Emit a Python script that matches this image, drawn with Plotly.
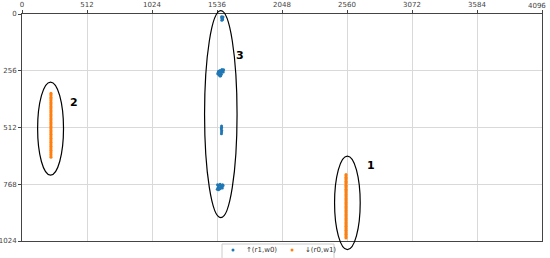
import plotly.graph_objects as go

# ---- data ----
up_x = [1572, 1578, 1575, 1580, 1574, 1577, 1583,
        1548, 1555, 1560, 1566, 1572, 1580, 1588, 1552, 1560, 1570, 1545, 1575, 1585, 1542, 1565,
        1572, 1572, 1570, 1573, 1572, 1571,
        1540, 1550, 1560, 1570, 1580, 1545, 1555, 1565, 1575, 1538, 1548, 1560, 1578, 1584]
up_y = [12, 15, 20, 25, 28, 18, 14,
        258, 262, 255, 268, 260, 256, 252, 275, 280, 272, 265, 250, 262, 270, 278,
        505, 512, 518, 525, 532, 540,
        770, 772, 768, 775, 770, 782, 785, 780, 778, 790, 793, 788, 785, 774]

down2_y = [357, 363, 369, 375, 381, 387, 393, 399, 405, 411, 417, 423, 429, 435, 441, 447,
           453, 459, 465, 471, 477, 483, 489, 495, 501, 507, 513, 519, 525, 531, 537, 543,
           549, 555, 561, 567, 573, 579, 585, 591, 597, 603, 609, 615, 621, 627, 634, 640, 646]
down2_x = [228] * len(down2_y)
down1_y = [724, 730, 736, 742, 748, 754, 760, 766, 772, 778, 784, 790, 796, 802, 808, 814,
           820, 826, 832, 838, 844, 850, 856, 862, 868, 874, 880, 886, 892, 898, 904, 910,
           916, 922, 928, 934, 940, 946, 952, 958, 964, 970, 976, 982, 988, 994, 1000, 1006, 1010]
down1_x = [2552] * len(down1_y)
down_x = down2_x + down1_x
down_y = down2_y + down1_y

series_names = ["↑(r1,w0)", "↓(r0,w1)"]
series_colors = ["#1f77b4", "#ff7f0e"]

x_ticks = [0, 512, 1024, 1536, 2048, 2560, 3072, 3584, 4096]
y_ticks = [0, 256, 512, 768, 1024]
X_MAX, Y_MAX = 4096, 1024

# ellipses: (label, cx, cy, rx, ry, label_x, label_y)
ellipses = [("1", 2563, 852, 101, 211, 2747, 682),
            ("2", 225, 517, 102, 210, 412, 399),
            ("3", 1566, 452, 128, 467, 1714, 187)]

TICK_FONT = dict(size=7, color="#444", family="DejaVu Sans")
W, H = 550, 258
ML, MR, MT, MB = 22, 8, 14, 17
PW, PH = W - ML - MR, H - MT - MB

fig = go.Figure()
fig.add_trace(go.Scatter(x=up_x, y=up_y, mode="markers", name=series_names[0],
                         marker=dict(color=series_colors[0], size=3)))
fig.add_trace(go.Scatter(x=down_x, y=down_y, mode="markers", name=series_names[1],
                         marker=dict(color=series_colors[1], size=3)))

for lab, cx, cy, rx, ry, lx, ly in ellipses:
    fig.add_shape(type="circle", xref="paper", yref="paper",
                  x0=(cx - rx) / X_MAX, x1=(cx + rx) / X_MAX,
                  y0=1 - (cy + ry) / Y_MAX, y1=1 - (cy - ry) / Y_MAX,
                  line=dict(color="black", width=1.2))
    fig.add_annotation(x=lx, y=ly, text="<b>" + lab + "</b>", showarrow=False,
                       font=dict(size=11, color="black", family="DejaVu Sans"))

# last x tick label (plotly drops it at the paper edge)
fig.add_annotation(x=x_ticks[-1], y=1, xref="x", yref="paper", yanchor="bottom", yshift=2,
                   xanchor="right", xshift=6,
                   text=str(x_ticks[-1]), showarrow=False, font=TICK_FONT)

# legend box below the plot (matplotlib style, lower center)
def px_x(p):
    return (p - ML) / PW

def px_y(p):
    return (MT + PH - p) / PH

fig.add_shape(type="rect", xref="paper", yref="paper",
              x0=px_x(222), x1=px_x(334), y0=px_y(262), y1=px_y(244),
              line=dict(color="#cccccc", width=1), fillcolor="white")
for i, (name, col) in enumerate(zip(series_names, series_colors)):
    mx = 233 + i * 59
    fig.add_shape(type="circle", xref="paper", yref="paper",
                  x0=px_x(mx - 1.5), x1=px_x(mx + 1.5), y0=px_y(251.5), y1=px_y(248.5),
                  line=dict(width=0), fillcolor=col)
    fig.add_annotation(x=px_x(mx + 11), y=px_y(250), xref="paper", yref="paper",
                       xanchor="left", yanchor="middle", text=name, showarrow=False,
                       font=dict(size=7, family="DejaVu Sans", color="#333"))

axis_common = dict(showgrid=True, gridcolor="#d9d9d9", gridwidth=1,
                   showline=True, linecolor="#444", linewidth=1, mirror=True,
                   ticks="outside", ticklen=3, tickcolor="#444",
                   tickfont=TICK_FONT, zeroline=False, automargin=False)
fig.update_xaxes(range=[0, X_MAX], tickvals=x_ticks, side="top", **axis_common)
fig.update_yaxes(range=[Y_MAX, 0], tickvals=y_ticks, **axis_common)

fig.update_layout(width=W, height=H, margin=dict(l=ML, r=MR, t=MT, b=MB),
                  plot_bgcolor="white", paper_bgcolor="white", showlegend=False)

fig.write_html("out.html", config={"displayModeBar": False},
               post_script="document.body.style.margin='0';")
